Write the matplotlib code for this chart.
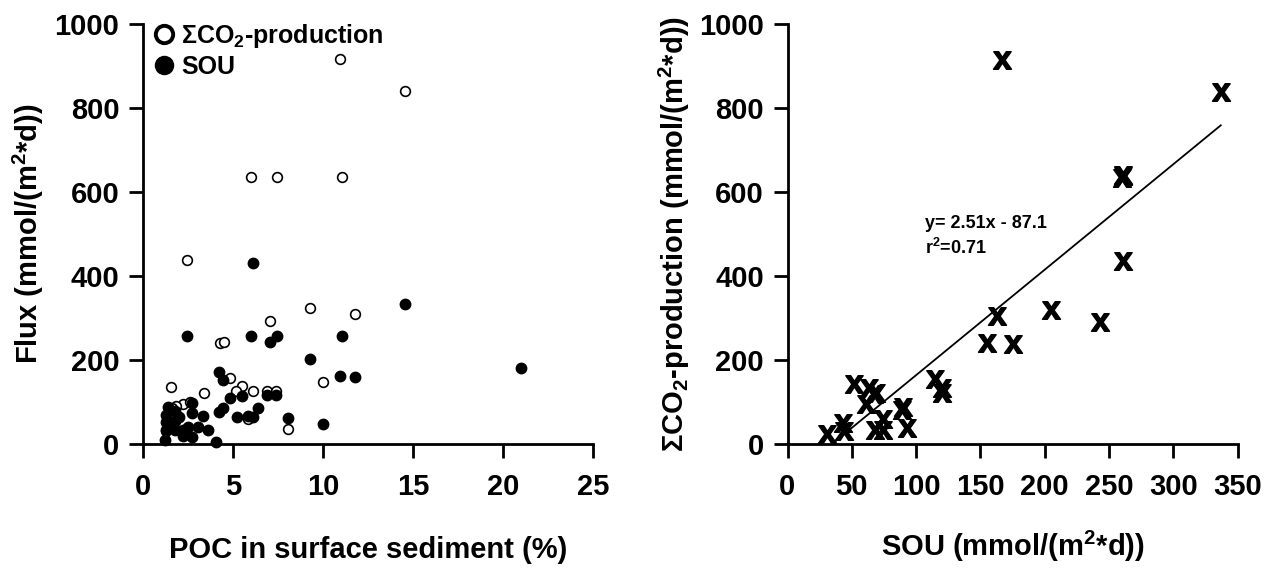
import numpy as np
import matplotlib
matplotlib.use('Agg')
import matplotlib.pyplot as plt
from matplotlib.lines import Line2D

plt.rcParams['font.family'] = ['Liberation Sans', 'DejaVu Sans']
plt.rcParams['font.weight'] = 'bold'
plt.rcParams['axes.labelweight'] = 'bold'
plt.rcParams['mathtext.fontset'] = 'custom'
plt.rcParams['mathtext.rm'] = 'Liberation Sans:bold'
plt.rcParams['mathtext.it'] = 'Liberation Sans:bold'
plt.rcParams['mathtext.bf'] = 'Liberation Sans:bold'

# left panel: POC (%) vs flux
poc_co2 = [10.94, 14.55, 6.0, 7.43, 11.07, 2.46, 9.28, 11.78, 7.06, 4.28, 4.5,
           10.02, 4.83, 1.54, 3.39, 5.48, 5.17, 6.13, 6.9, 7.37, 5.85, 8.07,
           2.24, 1.85, 1.6, 1.3, 2.6]
co2_flux = [916, 841, 636, 636, 636, 438, 325, 309, 293, 241, 244,
            147, 158, 136, 122, 138, 127, 127, 126, 126, 60, 36,
            95, 90, 85, 30, 100]

poc_sou = [2.46, 6.0, 7.43, 7.06, 11.07, 6.13, 14.55, 9.28, 10.94, 11.78, 21.0,
           4.24, 4.46, 5.48, 4.83, 6.9, 7.37, 6.37, 5.85, 6.13, 5.2, 8.07,
           10.02, 4.43, 4.2, 4.06, 3.63, 2.7, 3.35, 2.7, 2.7, 1.22, 1.4,
           1.3, 1.3, 1.3, 1.8, 1.8, 1.8, 2.2, 2.2, 3.07, 1.5, 2.0, 2.5]
sou_flux = [258, 258, 258, 242, 258, 430, 333, 202, 163, 160, 182,
            172, 152, 114, 110, 116, 116, 85, 67, 64, 64, 63,
            47, 85, 77, 5, 33, 17, 67, 97, 74, 10, 89,
            69, 53, 33, 78, 55, 34, 34, 19, 41, 45, 65, 40]

# right panel: SOU vs sum CO2 production
sou = [31, 43, 44, 52, 61, 63, 67, 69, 68, 74, 74, 89, 90, 93,
       115, 120, 120, 155, 163, 167, 175, 205, 243, 260, 261, 261, 261, 337]
co2 = [25, 50, 30, 142, 95, 133, 120, 121, 33, 60, 33, 80, 88, 38,
       155, 133, 121, 240, 305, 915, 238, 320, 290, 633, 638, 640, 435, 838]

slope = 2.51
intercept = -87.1
r2 = 0.71

fig = plt.figure(figsize=(12.74, 5.68), dpi=100)
ax1 = fig.add_axes([143/1274, 1-444/568, 450/1274, 420/568])
ax2 = fig.add_axes([787.5/1274, 1-444/568, 450/1274, 420/568])

for ax in (ax1, ax2):
    for s in ('top', 'right'):
        ax.spines[s].set_visible(False)
    for s in ('left', 'bottom'):
        ax.spines[s].set_linewidth(2)
    ax.tick_params(direction='out', length=10, width=2, labelsize=21)
    ax.tick_params(axis='x', pad=11)
    ax.tick_params(axis='y', pad=7)
    ax.set_ylim(0, 1000)
    ax.set_yticks([0, 200, 400, 600, 800, 1000])

ax1.plot(poc_co2, co2_flux, 'o', mfc='white', mec='black', mew=1.2, ms=7,
         clip_on=False, zorder=3)
ax1.plot(poc_sou, sou_flux, 'o', mfc='black', mec='black', ms=7.5,
         clip_on=False, zorder=3)
ax1.set_xlim(0, 25)
ax1.set_xticks([0, 5, 10, 15, 20, 25])
ax1.set_xlabel('POC in surface sediment (%)', fontsize=21, labelpad=25)
ax1.set_ylabel('Flux (mmol/(m$^2$*d))', fontsize=21, labelpad=6)

handles = [Line2D([], [], ls='none', marker='o', mfc='white', mec='black', mew=2.8, ms=12.5),
           Line2D([], [], ls='none', marker='o', mfc='black', mec='black', ms=13)]
ax1.legend(handles, [r'$\Sigma$CO$_2$-production', 'SOU'], loc='upper left',
           bbox_to_anchor=(0.021, 1.005), frameon=False, fontsize=18,
           handletextpad=0.25, borderaxespad=0, borderpad=0,
           labelspacing=0.2, handlelength=0.9)

ax2.plot(sou, co2, ls='none', marker=r'$\mathbf{x}$', color='black', ms=13,
         clip_on=False, zorder=3)
xs = np.array([min(sou), max(sou)])
ax2.plot(xs, slope*xs + intercept, color='black', lw=1.3)
ax2.set_xlim(0, 350)
ax2.set_xticks([0, 50, 100, 150, 200, 250, 300, 350])
ax2.set_xlabel('SOU (mmol/(m$^2$*d))', fontsize=21, labelpad=20)
ax2.set_ylabel(r'$\Sigma$CO$_2$-production (mmol/(m$^2$*d))', fontsize=21, labelpad=5)
ax2.text(107, 524, 'y= %.2fx - %.1f' % (slope, -intercept), fontsize=13,
         va='center', ha='left')
ax2.text(107, 467, 'r$^2$=%.2f' % r2, fontsize=13, va='center', ha='left')

fig.savefig('out.png', dpi=100)
